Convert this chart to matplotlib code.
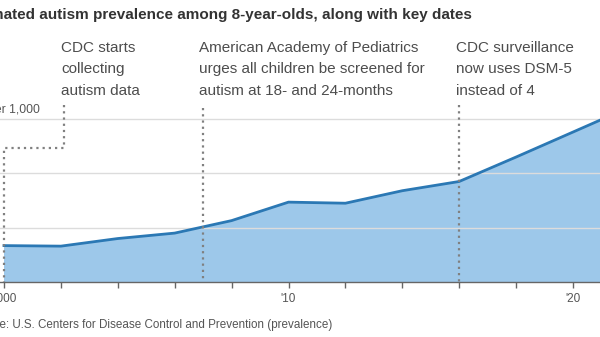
import matplotlib.pyplot as plt

# CDC ADDM prevalence among 8-year-olds, cases per 1,000
years = [2000, 2002, 2004, 2006, 2008, 2010, 2012, 2014, 2016, 2018, 2020, 2022]
prevalence = [6.7, 6.6, 8.0, 9.0, 11.3, 14.7, 14.5, 16.8, 18.5, 23.0, 27.6, 32.2]

grid_values = [10, 20, 30]
tick_years = list(range(2000, 2021, 2))
tick_labels = ['2000', '', '', '', '', "'10", '', '', '', '', "'20"]

# key dates (year the dotted line marks, text)
event_years = [2000, 2007, 2016]
event_texts = ['CDC starts\ncollecting\nautism data',
               'American Academy of Pediatrics\nurges all children be screened for\nautism at 18- and 24-months',
               'CDC surveillance\nnow uses DSM-5\ninstead of 4']

plt.rcParams['font.family'] = ['Liberation Sans', 'DejaVu Sans']

fig = plt.figure(figsize=(6, 3.37), dpi=100)
# axes run off both sides of the canvas, like the cropped original
px_per_year = 28.45
x0 = 2000 - 4 / px_per_year
x1 = 2000 + 596 / px_per_year
ax = fig.add_axes([0, 55 / 337, 1, 195.6 / 337])
ax.set_xlim(x0, x1)
ax.set_ylim(0, 36)

line_col = '#2b78b4'
fill_col = '#9dc8ea'
ax.fill_between(years, prevalence, color=fill_col, lw=0, zorder=1)
ax.plot(years, prevalence, color=line_col, lw=2, zorder=3)

for g in grid_values:
    ax.axhline(g, color='#dcdcdc', lw=1, zorder=2)

for s in ['top', 'left', 'right']:
    ax.spines[s].set_visible(False)
ax.spines['bottom'].set_color('#666666')
ax.spines['bottom'].set_linewidth(1)
ax.spines['bottom'].set_zorder(4)
ax.set_yticks([])
ax.set_xticks(tick_years)
ax.set_xticklabels(tick_labels, fontsize=8.5, color='#555555')
ax.tick_params(axis='x', length=4, width=1, color='#666666', pad=4)

# dotted leader lines
dot = dict(color='#808080', lw=1.6, ls=(0, (1, 1.8)), zorder=5, clip_on=False)
ax.plot([2002.1, 2002.1, event_years[0], event_years[0]], [32.6, 24.7, 24.7, 0], **dot)
ax.plot([event_years[1], event_years[1]], [32.1, 0], **dot)
ax.plot([event_years[2], event_years[2]], [32.6, 0], **dot)

text_x = [61, 199, 456]
for tx, t in zip(text_x, event_texts):
    fig.text(tx / 600, 1 - 41 / 337, t, ha='left', va='top', fontsize=11,
             color='#4d4d4d', linespacing=1.66)

fig.text(472 / 600, 1 - 15 / 337,
         'Estimated autism prevalence among 8-year-olds, along with key dates',
         ha='right', va='center', fontsize=10.95, fontweight='bold', color='#333333')
fig.text(40 / 600, 1 - 110 / 337, '30 cases per 1,000', ha='right', va='center',
         fontsize=8.7, color='#555555')
fig.text(332 / 600, 1 - 325 / 337,
         'Source: U.S. Centers for Disease Control and Prevention (prevalence)',
         ha='right', va='center', fontsize=8.35, color='#555555')

fig.savefig('out.png', dpi=100)
